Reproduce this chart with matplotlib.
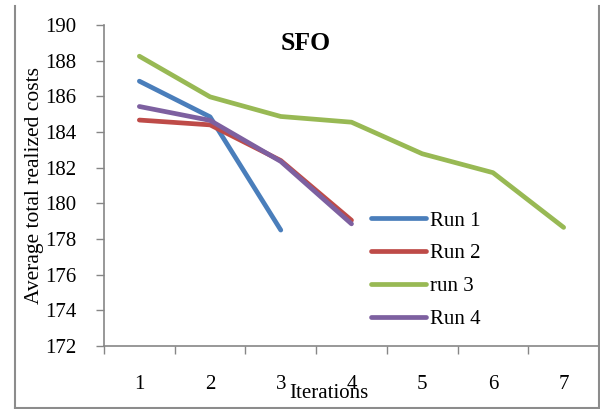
import numpy as np
import matplotlib.pyplot as plt
from matplotlib.lines import Line2D

# chart values
iterations = [1, 2, 3, 4, 5, 6, 7]
run1 = [186.85, 184.85, 178.5]
run2 = [184.67, 184.4, 182.4, 179.05]
run3 = [188.25, 185.97, 184.87, 184.55, 182.78, 181.72, 178.65]
run4 = [185.43, 184.65, 182.35, 178.85]
series_names = ['Run 1', 'Run 2', 'run 3', 'Run 4']
colors = ['#4A7EBB', '#BE4B48', '#98B954', '#7D60A0']
y_ticks = np.arange(172, 191, 2)

plt.rcParams['font.family'] = ['Liberation Serif', 'DejaVu Serif']

fig = plt.figure(figsize=(6, 4.09), dpi=100)
ax = fig.add_axes([104 / 600, 63 / 409, 495 / 600, 321 / 409])

for name, vals, c in zip(series_names, [run1, run2, run3, run4], colors):
    ax.plot(iterations[:len(vals)], vals, color=c, lw=3.4,
            solid_capstyle='round', solid_joinstyle='round', label=name)

ax.set_xlim(0.5, 7.5)
ax.set_ylim(172, 190)
ax.set_yticks(y_ticks)
ax.set_xticks(iterations)
ax.set_xticks(np.arange(0.5, 8, 1), minor=True)
ax.tick_params(axis='x', which='major', length=0, pad=21, labelsize=15)
ax.tick_params(axis='x', which='minor', length=6, width=1, color='#868686', direction='out')
ax.tick_params(axis='y', length=6, width=1, color='#868686', pad=14, labelsize=15)

for side in ['top', 'right']:
    ax.spines[side].set_visible(False)
for side in ['left', 'bottom']:
    ax.spines[side].set_color('#868686')
    ax.spines[side].set_linewidth(1.2)

ax.text((306 - 104) / 495, (346 - 43) / 321, 'SFO', transform=ax.transAxes,
        ha='center', va='center', fontsize=18.5, fontweight='bold')

fig.text(329 / 600, 1 - 393 / 409, 'Iterations', ha='center', va='center', fontsize=15)
fig.text(35 / 600, 1 - 185 / 409, 'Average total realized costs', ha='center', va='center',
         rotation=90, fontsize=15.5)

ax.legend(loc='upper left', bbox_to_anchor=(371 / 600, 1 - 211 / 409),
          bbox_transform=fig.transFigure, frameon=False, fontsize=15,
          handlelength=2.65, handletextpad=0.2, labelspacing=0.64, borderpad=0,
          borderaxespad=0)

# outer frame (top edge cropped in the reference)
frame_kw = dict(color='#8c8c8c', lw=1.5, transform=fig.transFigure)
fig.add_artist(Line2D([15 / 600, 15 / 600], [1 - 408 / 409, 1 - 6 / 409], **frame_kw))
fig.add_artist(Line2D([599 / 600, 599 / 600], [1 - 408 / 409, 1 - 6 / 409], **frame_kw))
fig.add_artist(Line2D([15 / 600, 599 / 600], [1 - 408 / 409, 1 - 408 / 409], **frame_kw))

fig.savefig('out.png', dpi=100)
